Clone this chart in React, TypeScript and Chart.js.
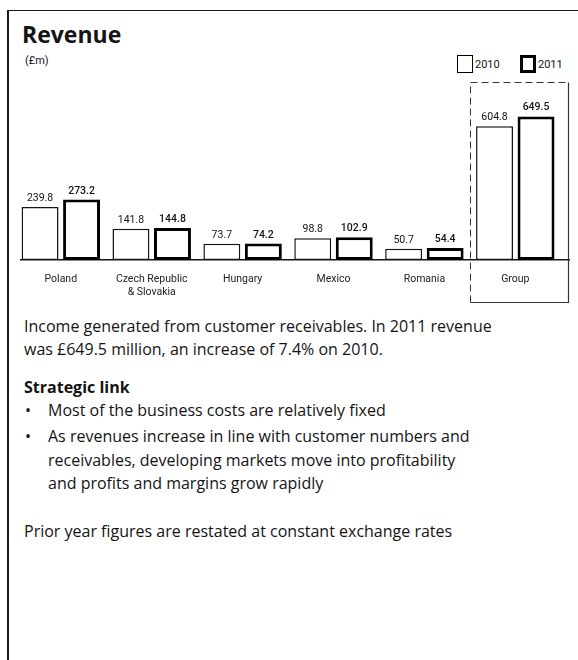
import React, { useEffect, useRef } from "react";
import { Chart, registerables } from "chart.js";

Chart.register(...registerables);

// ---- data ----
const CATEGORIES: string[][] = [
  ["Poland"],
  ["Czech Republic", "& Slovakia"],
  ["Hungary"],
  ["Mexico"],
  ["Romania"],
  ["Group"],
];
const SERIES_NAMES = ["2010", "2011"];
const REVENUE_2010 = [239.8, 141.8, 73.7, 98.8, 50.7, 604.8];
const REVENUE_2011 = [273.2, 144.8, 74.2, 102.9, 54.4, 649.5];
const CATEGORY_INDEX = CATEGORIES.map((_, i) => i);
const Y_MAX = 950;

const FONT = "Roboto, 'Noto Sans', sans-serif";
const BODY_FONT = "'Open Sans', Roboto, sans-serif";
const INK = "#141414";

const valueLabelPlugin = {
  id: "valueLabels",
  afterDatasetsDraw(chart: any) {
    const { ctx } = chart;
    ctx.save();
    ctx.textAlign = "center";
    ctx.textBaseline = "alphabetic";
    ctx.fillStyle = INK;
    chart.data.datasets.forEach((ds: any, di: number) => {
      const meta = chart.getDatasetMeta(di);
      ctx.font = `${di === 1 ? "500" : "400"} 10.5px ${FONT}`;
      meta.data.forEach((bar: any, j: number) => {
        const v = ds.data[j] as number;
        ctx.fillText(v.toFixed(1), bar.x, bar.y - 6);
      });
    });
    ctx.restore();
  },
};

const groupBoxPlugin = {
  id: "groupBox",
  beforeDatasetsDraw(chart: any) {
    const { ctx, chartArea } = chart;
    const x = chart.scales.x;
    const last = CATEGORY_INDEX.length - 1;
    const left =
      Math.round((x.getPixelForValue(last - 1) + x.getPixelForValue(last)) / 2) + 0.5;
    const right = Math.round(chartArea.right) - 0.5;
    const top = chartArea.top + 32.5;
    const bottom = chartArea.bottom + 42.5;
    ctx.save();
    ctx.strokeStyle = "#333";
    ctx.lineWidth = 1;
    ctx.setLineDash([7, 4]);
    ctx.beginPath();
    ctx.moveTo(left, bottom);
    ctx.lineTo(left, top);
    ctx.lineTo(right, top);
    ctx.stroke();
    ctx.setLineDash([]);
    ctx.lineWidth = 1.2;
    ctx.beginPath();
    ctx.moveTo(right, top);
    ctx.lineTo(right, bottom);
    ctx.lineTo(left, bottom);
    ctx.stroke();
    ctx.restore();
  },
};

function RevenueChart() {
  const ref = useRef<HTMLCanvasElement | null>(null);
  useEffect(() => {
    if (!ref.current) return;
    const chart = new Chart(ref.current, {
      type: "bar",
      data: {
        labels: CATEGORY_INDEX,
        datasets: [
          {
            label: SERIES_NAMES[0],
            data: REVENUE_2010,
            backgroundColor: "#ffffff",
            borderColor: INK,
            borderWidth: 1.5,
            borderSkipped: false,
          },
          {
            label: SERIES_NAMES[1],
            data: REVENUE_2011,
            backgroundColor: "#ffffff",
            borderColor: "#000000",
            borderWidth: 3,
            borderSkipped: false,
          },
        ],
      },
      options: {
        animation: false,
        responsive: false,
        maintainAspectRatio: false,
        categoryPercentage: 0.913,
        barPercentage: 0.89,
        layout: { padding: { top: 10, left: 21, right: 9, bottom: 10 } },
        plugins: {
          legend: { display: false },
          tooltip: { enabled: false },
          title: { display: false },
        },
        scales: {
          x: {
            type: "linear",
            offset: false,
            min: -0.438,
            max: 5.591,
            grid: { display: false },
            border: { display: true, color: INK, width: 1.5 },
            afterBuildTicks: (scale: any) => {
              scale.ticks = CATEGORY_INDEX.map((v) => ({ value: v }));
            },
            afterFit: (scale: any) => {
              scale.height = 40;
            },
            ticks: {
              autoSkip: false,
              maxRotation: 0,
              padding: 5,
              color: "#222",
              font: { family: FONT, size: 10.5 },
              callback: (v: any) => CATEGORIES[Math.round(Number(v))] ?? "",
            },
          },
          y: {
            display: false,
            min: 0,
            max: Y_MAX,
          },
        },
      } as any,
      plugins: [groupBoxPlugin, valueLabelPlugin],
    });
    return () => chart.destroy();
  }, []);
  return (
    <canvas
      ref={ref}
      width={578}
      height={270}
      style={{ position: "absolute", left: 0, top: 40, width: 578, height: 270 }}
    />
  );
}

export default function App() {
  useEffect(() => {
    document.body.style.margin = "0";
  }, []);
  const text: React.CSSProperties = {
    position: "absolute",
    fontFamily: BODY_FONT,
    color: INK,
    whiteSpace: "nowrap",
    fontSize: 16,
    lineHeight: "22.5px",
  };
  return (
    <div
      style={{
        position: "relative",
        width: 578,
        height: 660,
        overflow: "hidden",
        background: "#fff",
        fontFamily: FONT,
      }}
    >
      {/* frame */}
      <div
        style={{
          position: "absolute",
          left: 7,
          top: 10,
          width: 600,
          height: 700,
          borderLeft: "2px solid #1a1a1a",
          borderTop: "1.5px solid #1a1a1a",
        }}
      />
      <div
        style={{
          position: "absolute",
          left: 22,
          top: 23,
          fontFamily: BODY_FONT,
          fontSize: 23,
          lineHeight: "23px",
          fontWeight: 700,
          color: INK,
        }}
      >
        Revenue
      </div>
      <div style={{ position: "absolute", left: 25, top: 55, fontSize: 11, lineHeight: "11px", color: INK }}>
        (£m)
      </div>
      {/* legend */}
      {SERIES_NAMES.map((name, i) => (
        <div
          key={name}
          style={{
            position: "absolute",
            left: i === 0 ? 457 : 520,
            top: 55,
            height: 18,
            display: "flex",
            alignItems: "center",
            fontSize: 11,
            color: INK,
          }}
        >
          <span
            style={{
              display: "inline-block",
              boxSizing: "border-box",
              width: 16,
              height: 18,
              border: `${i === 0 ? 1.5 : 3}px solid #000`,
              marginRight: 2,
            }}
          />
          {name}
        </div>
      ))}
      <RevenueChart />
      <div style={{ ...text, left: 24, top: 315.2 }}>
        Income generated from customer receivables. In 2011 revenue
        <br />
        was £649.5 million, an increase of 7.4% on 2010.
      </div>
      <div style={{ ...text, left: 24, top: 375.8, fontWeight: 700 }}>Strategic link</div>
      <div style={{ ...text, left: 25, top: 399.4, lineHeight: "23.4px" }}>•</div>
      <div style={{ ...text, left: 48, top: 399.4, lineHeight: "23.4px" }}>
        Most of the business costs are relatively fixed
      </div>
      <div style={{ ...text, left: 25, top: 425.4, lineHeight: "23.4px" }}>•</div>
      <div style={{ ...text, left: 48, top: 425.4, lineHeight: "23.4px" }}>
        As revenues increase in line with customer numbers and
        <br />
        receivables, developing markets move into profitability
        <br />
        and profits and margins grow rapidly
      </div>
      <div style={{ ...text, left: 24, top: 519.5 }}>
        Prior year figures are restated at constant exchange rates
      </div>
    </div>
  );
}
